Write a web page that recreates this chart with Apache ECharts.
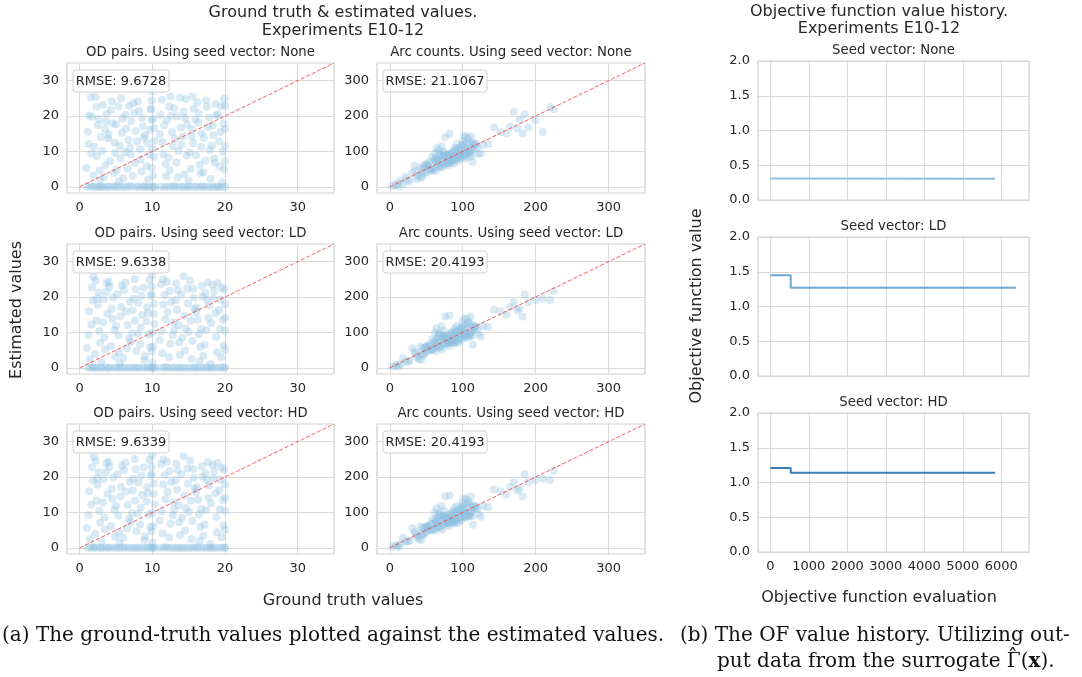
<!DOCTYPE html>
<html>
<head>
<meta charset="utf-8">
<script src="https://cdn.jsdelivr.net/npm/echarts@6/dist/echarts.min.js"></script>
<style>html,body{margin:0;padding:0;background:#fff}#c{width:1082px;height:677px}</style>
</head>
<body>
<div id="c"></div>
<script>
// ---------------- DATA ----------------
// OD pairs: [ground truth, estimated]
const odNone = [
[1.0,0],[1.4,0.2],[1.8,0],[0.9,5.3],[1.2,12.1],[1.6,9.4],[1.3,20.1],[1.9,3.2],[1.1,15.6],[1.7,19.8],[1.5,25.3],
[2.1,0],[2.5,0],[2.8,0.1],[2.2,25.4],[2.6,19.2],[2.3,22.6],[2.9,14.1],[2.4,8.7],[2.7,4.6],[2.0,11.3],[2.5,17.4],[2.8,1.9],
[3.0,0],[3.4,0],[3.8,0],[3.2,23.1],[3.6,18.4],[3.1,10.2],[3.5,6.1],[3.9,13.7],[3.3,2.8],[3.7,20.6],[3.5,16.2],
[4.1,0],[4.6,0.1],[4.9,0],[4.3,21.7],[4.8,12.5],[4.2,7.3],[4.5,17.9],[4.7,3.9],[4.4,24.2],[4.9,9.6],[4.0,14.8],
[5.2,0],[5.7,0],[5.1,4.8],[5.5,11.6],[5.9,19.3],[5.3,22.8],[5.6,8.1],[5.8,15.2],[5.4,1.6],[5.0,17.7],[5.7,25.0],
[6.1,0],[6.5,0],[6.9,0.2],[6.3,20.4],[6.7,13.2],[6.2,9.8],[6.6,5.2],[6.8,22.9],[6.4,16.5],[6.0,2.4],[6.9,11.1],
[7.2,0],[7.8,0],[7.1,18.6],[7.4,23.6],[7.6,6.7],[7.9,12.9],[7.3,3.1],[7.7,15.8],[7.5,20.9],[7.0,9.2],
[8.1,0],[8.6,0],[8.9,0.1],[8.3,10.6],[8.7,17.2],[8.2,21.4],[8.5,4.3],[8.8,13.9],[8.4,7.7],[8.0,24.1],[8.6,19.5],
[9.1,0],[9.5,0],[9.3,12.3],[9.7,16.1],[9.2,5.9],[9.8,22.2],[9.4,2.1],[9.6,9.1],[9.9,18.9],[9.0,14.6],
[10.0,0],[10.1,0],[9.9,5.4],[10.0,10.8],[10.2,16.6],[9.8,21.7],[10.0,27.0],[10.1,3.2],[10.3,13.1],[9.9,24.4],[10.2,8.5],[10.1,19.2],[10.4,0],
[11.2,0],[11.7,0],[11.1,20.3],[11.4,12.7],[11.8,6.4],[11.3,24.6],[11.6,17.4],[11.9,2.9],[11.5,9.3],[11.0,14.9],
[12.1,0],[12.6,0],[12.9,0.2],[12.3,22.7],[12.7,15.4],[12.2,8.2],[12.5,25.6],[12.8,11.5],[12.4,4.7],[12.0,18.8],[12.6,20.1],
[13.2,0],[13.7,0],[13.1,13.6],[13.4,19.9],[13.8,25.2],[13.3,6.9],[13.6,10.1],[13.9,16.8],[13.5,2.6],[13.0,22.3],
[14.1,0],[14.5,0],[14.9,0],[14.3,21.2],[14.7,8.8],[14.2,14.2],[14.6,24.8],[14.8,17.6],[14.4,3.5],[14.0,11.9],[14.5,19.4],
[15.2,0],[15.8,0],[15.1,9.7],[15.4,16.3],[15.7,22.1],[15.3,5.1],[15.6,12.4],[15.9,19.0],[15.5,25.5],[15.0,1.8],[15.4,14.3],
[16.1,0],[16.6,0],[16.9,0.1],[16.3,18.2],[16.7,11.3],[16.2,23.9],[16.5,6.2],[16.8,15.1],[16.4,20.7],[16.0,8.9],[16.6,3.8],
[17.2,0],[17.7,0],[17.1,13.8],[17.4,24.5],[17.8,19.6],[17.3,7.4],[17.6,16.9],[17.9,10.4],[17.5,22.6],[17.0,4.1],
[18.1,0],[18.5,0],[18.9,0],[18.3,17.3],[18.7,23.4],[18.2,11.7],[18.6,6.8],[18.8,20.2],[18.4,14.6],[18.0,2.3],[18.5,8.0],
[19.1,0],[19.6,0],[19.2,12.9],[19.5,22.8],[19.8,17.8],[19.3,5.7],[19.7,9.9],[19.9,24.9],[19.4,15.5],[19.0,20.5],[19.6,1.2],
[20.0,0],[20.0,11.6],[20.0,22.9],[19.9,4.9],[20.0,16.4],[20.0,7.2]
];
const odLD = [
[1.1,0],[1.5,0],[1.9,0.2],[1.0,5.6],[1.3,16.0],[1.6,12.2],[1.2,9.3],[1.8,19.1],[1.4,2.4],[1.7,22.8],[1.9,25.7],
[2.0,0],[2.4,0],[2.9,0],[2.2,24.6],[2.6,21.3],[2.3,13.4],[2.8,7.1],[2.5,17.8],[2.1,3.9],[2.7,10.4],[2.4,19.6],
[3.1,0],[3.6,0.1],[3.9,0],[3.3,19.4],[3.7,23.9],[3.2,12.8],[3.5,5.2],[3.8,15.3],[3.4,8.6],[3.0,1.7],[3.6,21.5],
[4.2,0],[4.7,0],[4.1,22.9],[4.4,16.7],[4.8,10.7],[4.3,6.2],[4.6,19.9],[4.9,3.1],[4.5,13.9],[4.0,24.3],
[5.1,0],[5.5,0],[5.9,0.1],[5.2,20.8],[5.6,14.6],[5.3,9.1],[5.8,23.2],[5.4,4.4],[5.7,17.2],[5.0,11.8],[5.5,1.3],
[6.2,0],[6.7,0],[6.1,21.9],[6.4,15.9],[6.8,8.3],[6.3,24.1],[6.6,12.1],[6.9,18.7],[6.5,5.5],[6.0,2.8],
[7.1,0],[7.5,0],[7.9,0],[7.3,16.2],[7.7,22.2],[7.2,9.8],[7.6,13.3],[7.8,4.7],[7.4,19.5],[7.0,7.4],[7.6,25.1],
[8.2,0],[8.7,0],[8.1,18.4],[8.4,11.4],[8.8,22.7],[8.3,6.6],[8.6,14.9],[8.9,2.2],[8.5,20.4],[8.0,9.6],
[9.1,0],[9.4,0],[9.8,0.1],[9.2,13.1],[9.6,24.9],[9.3,17.1],[9.7,5.8],[9.5,9.4],[9.9,20.9],[9.0,3.3],[9.4,15.5],
[10.0,0],[10.1,0],[9.9,4.7],[10.0,9.9],[10.2,15.2],[9.8,20.3],[10.0,26.2],[10.1,6.1],[10.3,12.4],[9.9,23.0],[10.2,18.1],[10.0,1.5],[10.4,0],
[11.1,0],[11.6,0],[11.9,0.2],[11.2,23.6],[11.5,17.9],[11.3,10.3],[11.8,13.7],[11.4,4.1],[11.7,20.6],[11.0,7.8],[11.5,25.0],
[12.2,0],[12.7,0],[12.1,15.8],[12.4,21.7],[12.8,9.2],[12.3,2.9],[12.6,18.6],[12.9,12.9],[12.5,6.8],[12.0,24.3],
[13.1,0],[13.5,0],[13.9,0],[13.2,19.1],[13.6,12.0],[13.3,23.8],[13.7,7.2],[13.4,16.4],[13.8,3.6],[13.0,10.7],[13.5,21.9],
[14.2,0],[14.7,0],[14.1,8.5],[14.4,14.8],[14.8,22.4],[14.3,25.9],[14.6,11.2],[14.9,18.2],[14.5,4.9],[14.0,20.7],
[15.1,0],[15.6,0],[15.9,0.1],[15.3,13.3],[15.7,19.8],[15.2,24.6],[15.5,7.6],[15.8,16.6],[15.4,2.5],[15.0,10.1],[15.6,22.3],
[16.2,0],[16.7,0],[16.1,17.1],[16.4,9.5],[16.8,23.1],[16.3,13.6],[16.6,5.9],[16.9,20.1],[16.5,1.9],[16.0,15.7],[16.7,11.0],
[17.1,0],[17.5,0],[17.9,0],[17.3,21.1],[17.7,14.1],[17.2,6.5],[17.6,24.2],[17.8,17.6],[17.4,10.6],[17.0,3.4],[17.5,19.2],
[18.2,0],[18.6,0],[18.1,12.6],[18.4,19.7],[18.8,8.7],[18.3,23.5],[18.7,15.4],[18.9,4.4],[18.5,21.8],[18.0,1.1],
[19.1,0],[19.5,0],[19.9,0.1],[19.2,16.3],[19.6,22.6],[19.3,10.9],[19.8,6.3],[19.4,19.3],[19.7,13.5],[19.0,24.0],[19.5,3.0],
[20.0,0],[20.0,10.5],[20.0,14.2],[19.9,22.1],[20.0,5.1],[20.0,18.0]
];
const odHD = odLD.slice();

const arcTruth = [
3,8,12,15,18,22,27,31,34,37,40,42,44,46,48,50,52,54,56,58,
60,61,62,63,64,65,66,67,68,69,70,71,72,73,74,75,76,77,78,79,
80,81,82,83,84,85,86,87,88,89,90,91,92,93,94,95,96,97,98,99,
100,101,102,103,104,105,106,107,108,109,110,111,112,113,114,115,116,118,120,122,
38,45,51,57,62,66,70,74,78,82,86,90,94,98,102,106,110,114,47,53,
59,64,69,73,77,81,85,89,93,97,101,105,109,43,55,67,79,91,103,117,
125,128,135,143,152,160,165,170,175,178,182,185,190,200,210,220,225,10,25,35,
49,63,75,87,99,111
];
const arcEstNone = [
2,5,0,18,8,28,15,40,60,22,35,55,30,48,62,40,58,70,45,85,
50,75,95,45,110,58,80,105,62,90,72,115,55,85,100,65,140,78,92,70,
88,60,150,75,95,70,100,82,65,110,85,78,120,90,72,105,88,95,80,115,
130,92,145,105,80,140,110,95,135,120,100,142,108,88,125,118,105,122,112,93,
30,52,65,48,80,72,60,88,68,92,75,98,82,110,88,125,95,70,38,62,
48,78,55,95,82,68,92,75,110,88,120,98,85,25,50,95,65,105,90,120,
95,118,120,168,155,150,170,212,165,190,150,205,168,188,155,225,220,10,20,45,
60,72,88,78,118,102
];
const arcEstLD = [
3,6,2,10,28,18,20,55,45,30,25,60,40,35,55,45,62,50,68,80,
55,70,100,48,112,60,85,98,58,92,75,118,52,88,105,68,145,80,90,72,
85,62,148,72,98,75,102,80,68,112,82,75,118,92,70,108,85,98,78,112,
128,90,140,102,85,138,112,92,130,125,98,145,105,90,120,115,108,118,110,95,
35,55,62,50,78,70,62,85,70,95,72,100,80,108,90,122,92,65,40,60,
50,75,58,92,85,70,90,72,105,85,118,95,88,22,52,92,68,102,88,115,
88,118,115,165,160,150,172,185,162,168,145,208,185,192,195,192,218,8,18,42,
58,70,85,80,115,100
];
const arcEstHD = arcEstLD.slice();

const diagOD = [0, 35];
const diagArc = [0, 350];

const ofNoneEval = [0, 510, 510, 5840];
const ofNoneVal  = [0.31, 0.31, 0.305, 0.305];
const ofLDEval   = [0, 530, 530, 6380];
const ofLDVal    = [1.45, 1.45, 1.27, 1.27];
const ofHDEval   = [0, 530, 530, 5840];
const ofHDVal    = [1.21, 1.21, 1.14, 1.14];

const odTicks  = [0, 10, 20, 30];
const arcTicks = [0, 100, 200, 300];
const ofXTicks = [0, 1000, 2000, 3000, 4000, 5000, 6000];

const seeds = ['None', 'LD', 'HD'];
const rmseOD  = ['9.6728', '9.6338', '9.6339'];
const rmseArc = ['21.1067', '20.4193', '20.4193'];

// ---------------- LAYOUT ----------------
const FONT = 'DejaVu Sans';
const TXT = '#262626';
const GRIDC = '#d9d9d9';
const TICKF = 13;
const scCols = [{left: 67, width: 267}, {left: 377, width: 268}];
const scTops = [63, 244, 424];
const scH = 130;
const ofLeft = 758, ofW = 271, ofTops = [61, 237, 413], ofH = 139;

const grids = [], xAxes = [], yAxes = [], series = [], graphics = [];

function addText(text, x, y, size, opts) {
  graphics.push(Object.assign({
    type: 'text', x: x, y: y, silent: true,
    style: Object.assign({text: text, fill: TXT, font: size + 'px "' + FONT + '"',
      align: 'center', verticalAlign: 'middle'}, (opts && opts.style) || {})
  }, (opts && opts.el) || {}));
}

function axisCommon(min, max, ticks, showLabel, fmt) {
  return {
    type: 'value', min: min, max: max,
    axisLine: {show: false},
    axisTick: {show: false, customValues: ticks},
    axisLabel: {show: showLabel, customValues: ticks, color: TXT, fontSize: TICKF,
      fontFamily: FONT, margin: 8, formatter: fmt || (v => String(v))},
    splitLine: {show: true, lineStyle: {color: GRIDC, width: 1}}
  };
}

const odSets = [odNone, odLD, odHD];
const arcEst = [arcEstNone, arcEstLD, arcEstHD];

let gi = 0;
for (let r = 0; r < 3; r++) {
  for (let c = 0; c < 2; c++) {
    const g = scCols[c];
    grids.push({left: g.left, top: scTops[r], width: g.width, height: scH,
      show: true, borderColor: '#cfcfcf', borderWidth: 1.2, backgroundColor: '#fff', outerBoundsMode: 'none'});
    const isOD = c === 0;
    const lim = isOD ? [-1.75, 35] : [-17.5, 350];
    const ticks = isOD ? odTicks : arcTicks;
    xAxes.push(Object.assign(axisCommon(lim[0], lim[1], ticks, true), {gridIndex: gi}));
    yAxes.push(Object.assign(axisCommon(lim[0], lim[1], ticks, true), {gridIndex: gi}));
    const pts = isOD ? odSets[r] : arcTruth.map((v, i) => [v, arcEst[r][i]]);
    series.push({
      type: 'scatter', xAxisIndex: gi, yAxisIndex: gi, silent: true,
      symbolSize: 8,
      itemStyle: {color: '#8dbfe0', opacity: 0.33},
      data: pts
    });
    const d = isOD ? diagOD : diagArc;
    series.push({
      type: 'line', xAxisIndex: gi, yAxisIndex: gi, silent: true, showSymbol: false,
      lineStyle: {color: 'rgba(255,40,40,0.75)', width: 1, type: [4, 2]},
      data: d.map(v => [v, v])
    });
    addText((isOD ? 'OD pairs' : 'Arc counts') + '. Using seed vector: ' + seeds[r],
      g.left + g.width / 2, scTops[r] - 10.5, 13.3);
    const label = 'RMSE: ' + (isOD ? rmseOD[r] : rmseArc[r]);
    const bw = isOD ? 96 : 104;
    graphics.push({type: 'rect', silent: true, z: 50,
      shape: {x: g.left + 6, y: scTops[r] + 7, width: bw, height: 22, r: 3},
      style: {fill: 'rgba(255,255,255,0.85)', stroke: '#d0d0d0', lineWidth: 1}});
    graphics.push({type: 'text', silent: true, z: 51, x: g.left + 6 + bw / 2, y: scTops[r] + 18.5,
      style: {text: label, fill: TXT, font: '13px "' + FONT + '"', align: 'center', verticalAlign: 'middle'}});
    gi++;
  }
}

const ofData = [[ofNoneEval, ofNoneVal], [ofLDEval, ofLDVal], [ofHDEval, ofHDVal]];
const ofColors = ['#8cc0de', '#69a8d4', '#3c7db8'];
for (let r = 0; r < 3; r++) {
  grids.push({left: ofLeft, top: ofTops[r], width: ofW, height: ofH,
    show: true, borderColor: '#cfcfcf', borderWidth: 1.2, backgroundColor: '#fff', outerBoundsMode: 'none'});
  xAxes.push(Object.assign(axisCommon(-320, 6720, ofXTicks, r === 2), {gridIndex: gi}));
  const ya = axisCommon(0, 2, null, true, v => v.toFixed(1));
  ya.interval = 0.5;
  delete ya.axisTick.customValues; delete ya.axisLabel.customValues;
  yAxes.push(Object.assign(ya, {gridIndex: gi}));
  const [ex, ev] = ofData[r];
  series.push({
    type: 'line', xAxisIndex: gi, yAxisIndex: gi, silent: true, showSymbol: false,
    lineStyle: {color: ofColors[r], width: 2},
    data: ex.map((v, i) => [v, ev[i]])
  });
  addText('Seed vector: ' + seeds[r], ofLeft + ofW / 2, ofTops[r] - 10.8, 13.3);
  gi++;
}

addText('Ground truth & estimated values.', 343, 13, 16);
addText('Experiments E10-12', 343, 31, 16);
addText('Objective function value history.', 879, 11.5, 16);
addText('Experiments E10-12', 879, 29, 16);
addText('Estimated values', 17, 310, 16, {el: {rotation: Math.PI / 2}});
addText('Objective function value', 697, 306, 16, {el: {rotation: Math.PI / 2}});
addText('Ground truth values', 343, 601, 16);
addText('Objective function evaluation', 879, 598, 16);

// Captions
const SERIF = '"DejaVu Serif"';
const CAP = '20px ' + SERIF;
graphics.push({type: 'text', silent: true, x: 2, y: 636,
  style: {text: '(a) The ground-truth values plotted against the estimated values.', fill: '#111',
    font: CAP, align: 'left', verticalAlign: 'middle'}});
graphics.push({type: 'text', silent: true, x: 680, y: 636,
  style: {text: '(b) The OF value history. Utilizing out-', fill: '#111',
    font: CAP, align: 'left', verticalAlign: 'middle'}});
const line2x = 717, line2y = 662, line2pre = 'put data from the surrogate ';
graphics.push({type: 'text', silent: true, x: line2x, y: line2y,
  style: {text: '{n|' + line2pre + 'Γ(}{b|x}{n|).}', fill: '#111',
    align: 'left', verticalAlign: 'middle',
    rich: {n: {font: CAP, fill: '#111'}, b: {font: 'bold ' + CAP, fill: '#111'}}}});
// hat over Gamma (position from measured text width)
const mctx = document.createElement('canvas').getContext('2d');
mctx.font = CAP;
const preW = mctx.measureText(line2pre).width;
const gamW = mctx.measureText('Γ').width;
graphics.push({type: 'text', silent: true, x: line2x + preW + gamW / 2 - 1, y: line2y - 3,
  style: {text: '\u02C6', fill: '#111', font: CAP, align: 'center', verticalAlign: 'middle'}});

const chart = echarts.init(document.getElementById('c'), null, {renderer: 'canvas'});
chart.setOption({
  animation: false,
  backgroundColor: '#fff',
  grid: grids, xAxis: xAxes, yAxis: yAxes, series: series,
  graphic: {elements: graphics}
});
</script>
</body>
</html>
